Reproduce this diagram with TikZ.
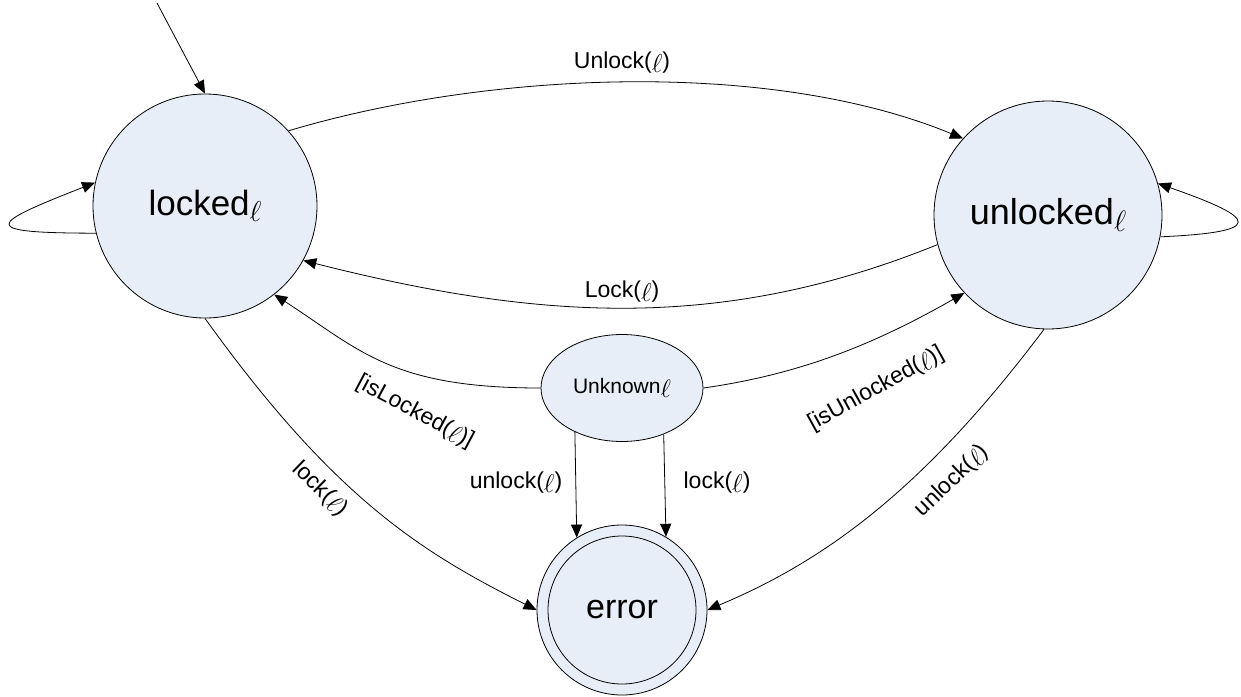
\RequirePackage{fix-cm}
\documentclass[tikz,border=0pt]{standalone}
\usepackage{fontspec}
\setmainfont{Liberation Sans}
\usepackage{graphicx}
\usetikzlibrary{arrows.meta,shapes.geometric}
\definecolor{statefill}{RGB}{232,238,247}
% script ell in its three sizes
\newcommand{\ellsub}{\raisebox{-0.17em}{\scalebox{0.82}{$\ell$}}}
\newcommand{\ellbig}{\raisebox{-0.2em}{\scalebox{1.2}{$\ell$}}}
\newcommand{\elltxt}{\raisebox{-0.15em}{\scalebox{1.12}{$\ell$}}}
\tikzset{
  state/.style={circle, draw=black, fill=statefill, line width=0.8pt, inner sep=0pt},
  lbl/.style={font=\fontsize{23}{27}\selectfont, inner sep=0pt},
  trans/.style={-{Triangle[length=13pt,width=11pt]}, line width=0.8pt},
}
\begin{document}
\begin{tikzpicture}[x=1pt,y=-1pt]
\useasboundingbox (0,0) rectangle (1241,696);

% states
\node[state, minimum size=224pt, font=\fontsize{35}{42}\selectfont] (locked) at (205,206) {locked\ellsub};
\node[state, minimum size=228pt, font=\fontsize{36}{43}\selectfont] (unlocked) at (1048,215) {unlocked\ellsub};
\node[ellipse, draw=black, fill=statefill, line width=0.8pt, inner sep=0pt,
      minimum width=162pt, minimum height=107pt, font=\fontsize{21}{25}\selectfont] (unknown) at (622,388) {Unknown\ellbig};
\node[state, minimum size=170pt, font=\fontsize{34}{40}\selectfont] (error) at (622,610) {error};
\draw[line width=0.8pt] (error.center) circle[radius=74pt];

% initial arrow
\coordinate (init) at (157,3);
\draw[trans] (init) -- (locked.north);

% self loops
\draw[trans] (locked.194) .. controls (-23,233) and (-12.8,224.8) .. (locked.168);
\draw[trans] (unlocked.-11) .. controls (1266,232) and (1259,218.7) .. (unlocked.16);

% transitions between locked and unlocked
\draw[trans] (locked.42) .. controls (489,71) and (770,59) .. (unlocked.138);
\draw[trans] (unlocked.195) .. controls (718,333.5) and (535,319) .. (locked.-29);

% from unknown
\draw[trans] (unknown.west) .. controls (391,388) and (360,350) .. (locked.-52);
\draw[trans] (unknown.east) .. controls (802,374) and (875.5,343.5) .. (unlocked.-137);
\draw[trans] (unknown.-137) -- (error.122);
\draw[trans] (unknown.-48) -- (error.59.5);

% into error
\draw[trans] (locked.south) .. controls (334,498) and (421,552) .. (error.180);
\draw[trans] (unlocked.-92) .. controls (924.6,488) and (826.6,560) .. (error.0);

% labels
\node[lbl] (lUnlock) at (622,63) {Unlock(\elltxt)};
\node[lbl] (lLock) at (622,292) {Lock(\elltxt)};
\node[lbl, rotate=-28] (lIsLocked) at (415,412) {[isLocked(\elltxt)]};
\node[lbl, rotate=29] (lIsUnlocked) at (876,389) {[isUnlocked(\elltxt)]};
\node[lbl, rotate=-44] (lLockL) at (320,489) {lock(\elltxt)};
\node[lbl, rotate=44] (lUnlockR) at (952,481) {unlock(\elltxt)};
\node[lbl] (lUnlockM) at (516,483) {unlock(\elltxt)};
\node[lbl] (lLockM) at (717,483) {lock(\elltxt)};
\end{tikzpicture}
\end{document}
